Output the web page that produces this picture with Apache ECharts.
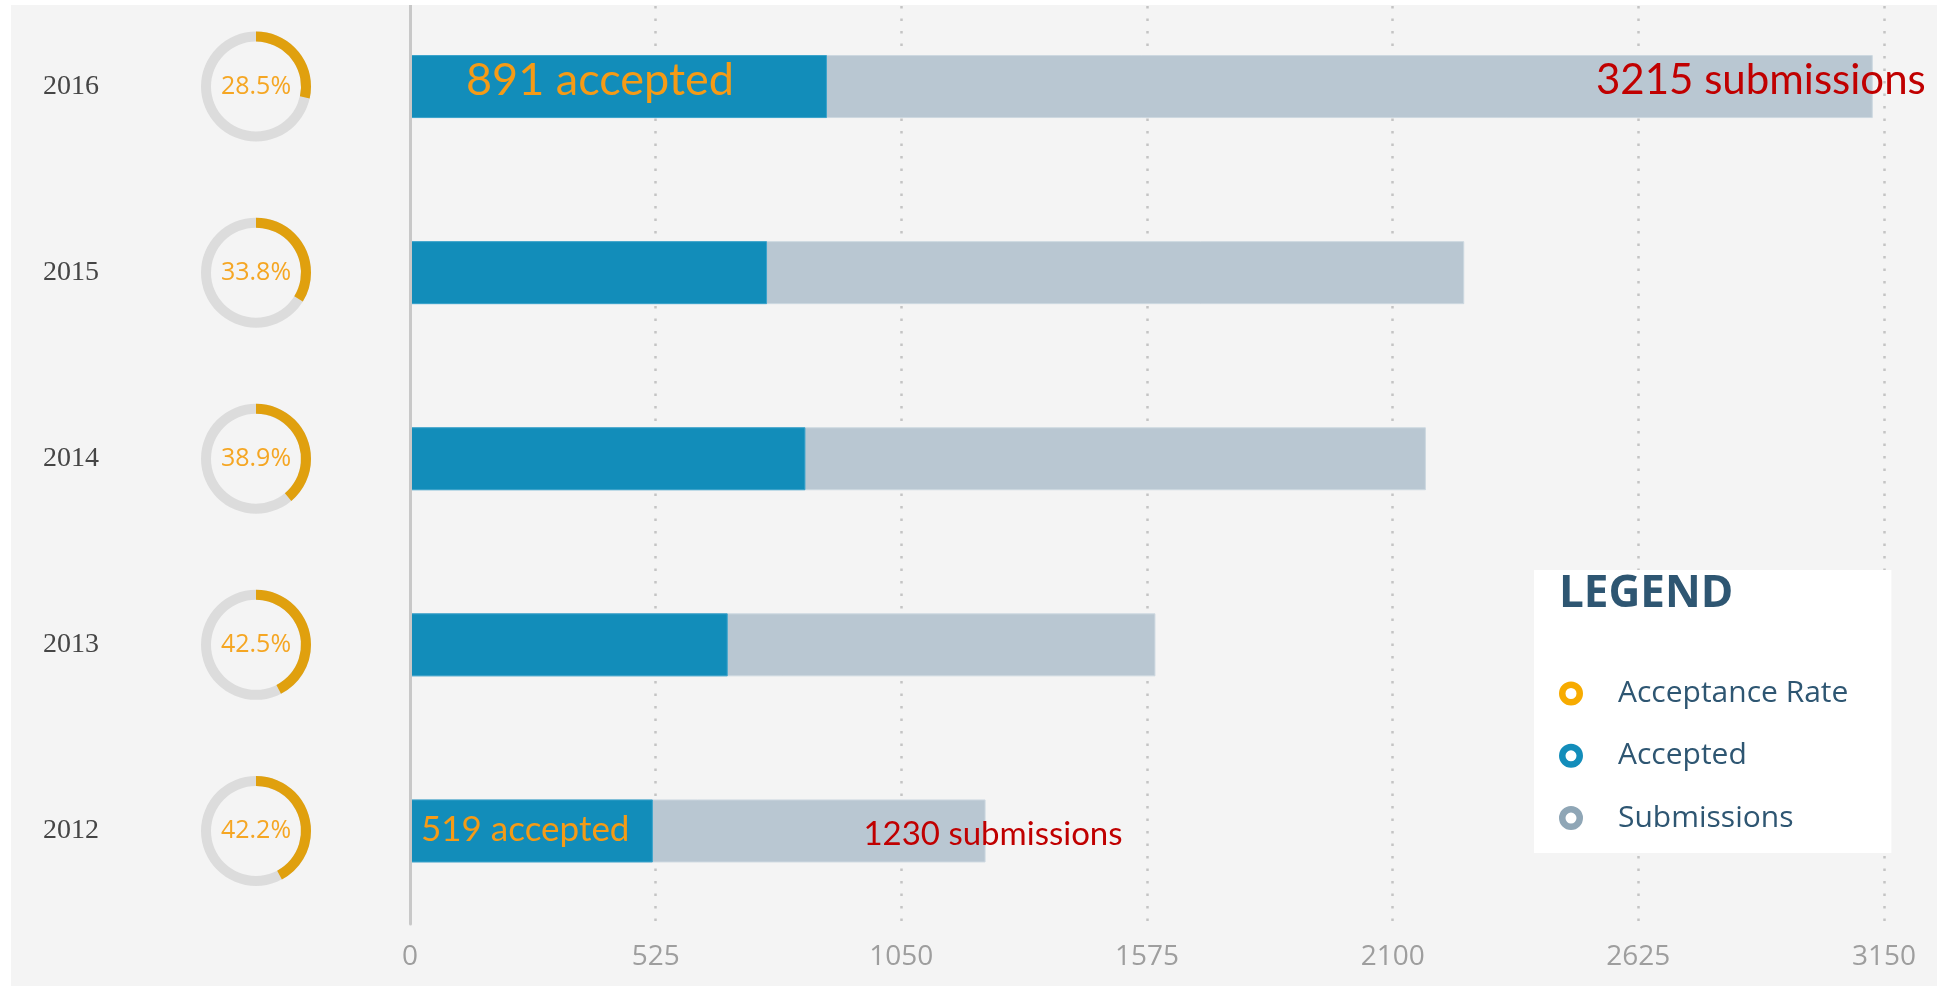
<!DOCTYPE html>
<html>
<head>
<meta charset="utf-8">
<script src="https://cdn.jsdelivr.net/npm/echarts@6/dist/echarts.min.js"></script>
<style>
  html, body { margin: 0; padding: 0; background: #ffffff; }
  #chart { position: absolute; left: 11px; top: 5px; width: 1926px; height: 981px; background: #f4f4f4; }
</style>
</head>
<body>
<div id="chart"></div>
<script>
// ---- data (bottom to top) ----
const years = ['2012', '2013', '2014', '2015', '2016'];
const accepted = [519, 679, 845, 763, 891];
const submissions = [1230, 1593, 2171, 2253, 3126];
const acceptanceRates = [42.2, 42.5, 38.9, 33.8, 28.5];
const acceptedLabels = ['519 accepted', '', '', '', '891 accepted'];
const submissionLabels = ['1230 submissions', '', '', '', '3215 submissions'];
const xMin = 0, xMax = 3150, xInterval = 525;
const legendTitle = 'LEGEND';
const seriesNames = ['Acceptance Rate', 'Accepted', 'Submissions'];

// ---- styles ----
const labelFont = 'Lato, "Open Sans", sans-serif';

const accLabelStyle = [
  { distance: 11, dy: -1, fontSize: 35 },
  null, null, null,
  { distance: 56, dy: -6, fontSize: 45 }
];
const subLabelStyle = [
  { dx: 137, dy: 3, fontSize: 33 },
  null, null, null,
  { dx: 53, dy: -6, fontSize: 42 }
];

const chart = echarts.init(document.getElementById('chart'));

const accData = accepted.map((v, i) => {
  const st = accLabelStyle[i];
  if (!acceptedLabels[i] || !st) return { value: v };
  return {
    value: v,
    label: {
      show: true,
      position: 'insideLeft',
      distance: st.distance,
      offset: [0, st.dy],
      formatter: acceptedLabels[i],
      color: '#f59b16',
      fontSize: st.fontSize,
      fontFamily: labelFont
    }
  };
});

const subData = submissions.map((v, i) => {
  const st = subLabelStyle[i];
  if (!submissionLabels[i] || !st) return { value: v };
  return {
    value: v,
    label: {
      show: true,
      position: 'insideRight',
      distance: 0,
      offset: [st.dx, st.dy],
      formatter: submissionLabels[i],
      color: '#c00000',
      fontSize: st.fontSize,
      fontFamily: labelFont
    }
  };
});

const donutData = years.map((y, i) => [0, i, acceptanceRates[i]]);

const ringIcon = 'path://M0,12 A12,12 0 1,1 24,12 A12,12 0 1,1 0,12 Z M6.5,12 A5.5,5.5 0 1,0 17.5,12 A5.5,5.5 0 1,0 6.5,12 Z';

const option = {
  backgroundColor: '#f4f4f4',
  animation: false,
  title: {
    text: legendTitle,
    left: 1548,
    top: 567,
    padding: 0,
    textStyle: { fontSize: 44, fontWeight: 'bold', color: '#2e5672', fontFamily: '"Open Sans", sans-serif' }
  },
  legend: {
    orient: 'vertical',
    left: 1523,
    top: 565,
    backgroundColor: '#ffffff',
    padding: [108.5, 43, 20, 25],
    itemWidth: 24,
    itemHeight: 24,
    itemGap: 32.3,
    icon: ringIcon,
    textStyle: { fontSize: 30, lineHeight: 24, color: '#2e5672', fontFamily: '"Open Sans", sans-serif', padding: [0, 0, 0, 30] },
    data: [
      { name: seriesNames[0], itemStyle: { color: '#f7ab00', borderWidth: 0 } },
      { name: seriesNames[1], itemStyle: { color: '#138dba', borderWidth: 0 } },
      { name: seriesNames[2], itemStyle: { color: '#8fa6b6', borderWidth: 0 } }
    ]
  },
  grid: { left: 399, right: 53, top: -11.5, bottom: 62, containLabel: false, outerBoundsMode: 'none' },
  xAxis: {
    type: 'value',
    min: xMin,
    max: xMax,
    interval: xInterval,
    axisLine: { show: false },
    axisTick: { show: false },
    axisLabel: { margin: 19, color: '#9e9e9e', fontSize: 28, fontFamily: '"Open Sans", sans-serif', formatter: function (v) { return String(v); } },
    splitLine: { show: true, lineStyle: { type: [2.5, 10], color: '#c4c4c4', width: 2.5 } }
  },
  yAxis: {
    type: 'category',
    data: years,
    axisLine: { show: true, lineStyle: { color: '#c8c8c8', width: 3 } },
    axisTick: { show: false },
    axisLabel: { margin: 311, color: '#454545', fontSize: 28, fontFamily: '"Liberation Serif", serif' },
    z: 5
  },
  series: [
    {
      name: seriesNames[2],
      type: 'bar',
      barWidth: 63,
      barGap: '-100%',
      itemStyle: { color: '#b9c7d2', borderColor: '#cdd8e0', borderWidth: 1 },
      data: subData,
      z: 2
    },
    {
      name: seriesNames[1],
      type: 'bar',
      barWidth: 63,
      barGap: '-100%',
      itemStyle: { color: '#128dba', borderColor: '#3aa3cb', borderWidth: 1 },
      data: accData,
      z: 3
    },
    {
      name: seriesNames[0],
      type: 'custom',
      clip: false,
      itemStyle: { color: '#f7ab00' },
      encode: { x: 0, y: 1 },
      data: donutData,
      renderItem: function (params, api) {
        const idx = api.value(1);
        const rate = api.value(2);
        const p = api.coord([0, idx]);
        const cx = p[0] - 154, cy = p[1];
        const start = -Math.PI / 2;
        return {
          type: 'group',
          children: [
            { type: 'sector', shape: { cx: cx, cy: cy, r0: 45, r: 55, startAngle: 0, endAngle: Math.PI * 2 }, style: { fill: '#dcdcdc' } },
            { type: 'sector', shape: { cx: cx, cy: cy, r0: 45, r: 55, startAngle: start, endAngle: start + rate / 100 * Math.PI * 2, clockwise: true }, style: { fill: '#e0a00e' } },
            { type: 'text', x: cx, y: cy, style: { text: rate.toFixed(1) + '%', fill: '#f5a623', fontSize: 25, fontFamily: '"Open Sans", sans-serif', align: 'center', verticalAlign: 'middle' } }
          ]
        };
      }
    }
  ]
};

chart.setOption(option);
</script>
</body>
</html>
